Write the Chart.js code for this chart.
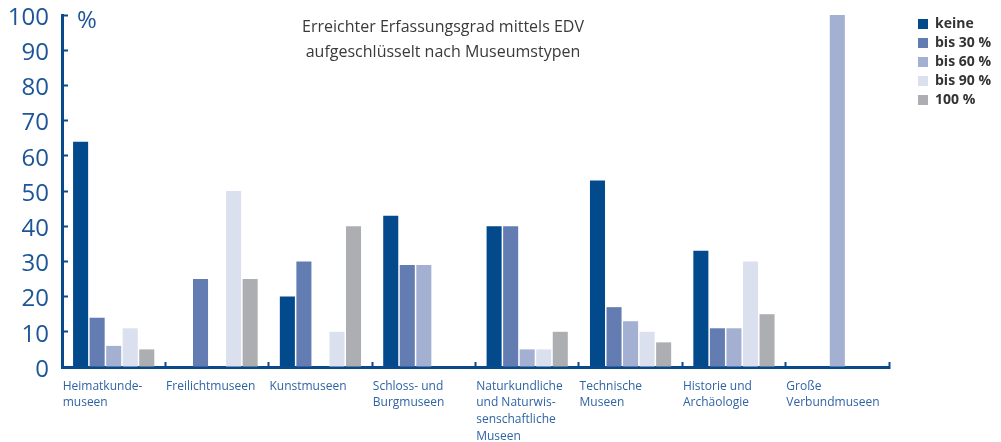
<!DOCTYPE html>
<html lang="de">
<head>
<meta charset="utf-8">
<title>Erreichter Erfassungsgrad mittels EDV</title>
<script src="https://cdn.jsdelivr.net/npm/chart.js@4.4.1/dist/chart.umd.min.js"></script>
<style>
  html, body { margin: 0; padding: 0; background: #fff; }
  #wrap { width: 1001px; height: 442px; }
</style>
</head>
<body>
<div id="wrap"><canvas id="chart" width="1001" height="442"></canvas></div>
<script>
// museum types (x categories)
const categories = [
  ['Heimatkunde-', 'museen'],
  'Freilichtmuseen',
  'Kunstmuseen',
  ['Schloss- und', 'Burgmuseen'],
  ['Naturkundliche', 'und Naturwis-', 'senschaftliche', 'Museen'],
  ['Technische', 'Museen'],
  ['Historie und', 'Archäologie'],
  ['Große', 'Verbundmuseen']
];

// share of museums in % per degree of coverage
const keine = [64, 0, 20, 43, 40, 53, 33, 0];
const bis30 = [14, 25, 30, 29, 40, 17, 11, 0];
const bis60 = [6, 0, 0, 29, 5, 13, 11, 100];
const bis90 = [11, 50, 10, 0, 5, 10, 30, 0];
const voll = [5, 25, 40, 0, 10, 7, 15, 0];

const seriesLabels = ['keine', 'bis 30 %', 'bis 60 %', 'bis 90 %', '100 %'];
const yTicks = [0, 10, 20, 30, 40, 50, 60, 70, 80, 90, 100];
const titleLines = ['Erreichter Erfassungsgrad mittels EDV', 'aufgeschlüsselt nach Museumstypen'];
const unitLabel = '%';

const seriesColors = ['#034a8c', '#637cb2', '#a4b0d2', '#dbe0ee', '#adaeb2'];
const axisBlue = '#0a4a8b';

// keeps some room between the plot and the legend on the right
const legendGap = {
  id: 'legendGap',
  beforeInit(chart) {
    Chart.layouts.addBox(chart, {
      position: 'right',
      weight: 500,
      fullSize: false,
      options: {},
      width: 0,
      height: 0,
      isHorizontal() { return false; },
      update(maxWidth, maxHeight) { this.width = 24; this.height = maxHeight; },
      draw() {}
    });
  }
};

// title text and the % unit next to the y axis
const extraText = {
  id: 'extraText',
  afterDraw(chart) {
    const ctx = chart.ctx;
    const area = chart.chartArea;
    ctx.save();
    ctx.fillStyle = '#3a3a3a';
    ctx.font = '16px "Open Sans"';
    ctx.textAlign = 'center';
    ctx.textBaseline = 'alphabetic';
    ctx.fillText(titleLines[0], 443, 31.5);
    ctx.fillText(titleLines[1], 443, 57);
    ctx.fillStyle = '#1d5596';
    ctx.font = '24px "Open Sans"';
    ctx.textAlign = 'left';
    ctx.fillText(unitLabel, area.left + 15, 28);
    ctx.restore();
  }
};

const datasets = [keine, bis30, bis60, bis90, voll].map((values, i) => ({
  label: seriesLabels[i],
  data: values,
  backgroundColor: seriesColors[i],
  borderWidth: 0,
  categoryPercentage: 0.8,
  barPercentage: 0.91
}));

new Chart(document.getElementById('chart'), {
  type: 'bar',
  data: { labels: categories, datasets: datasets },
  options: {
    responsive: false,
    animation: false,
    layout: { padding: { top: 12, right: 0, bottom: 0, left: 0 } },
    plugins: {
      title: { display: false },
      tooltip: { enabled: false },
      legend: {
        position: 'right',
        align: 'start',
        labels: {
          boxWidth: 10,
          boxHeight: 10,
          padding: 5,
          color: '#333333',
          font: { family: 'Open Sans', size: 14, weight: 'bold' }
        }
      }
    },
    scales: {
      x: {
        afterFit(scale) { scale.height = 75; },
        border: { display: true, color: axisBlue, width: 3 },
        grid: {
          offset: true,
          drawOnChartArea: false,
          drawTicks: true,
          tickLength: -5,
          tickWidth: 2,
          color: ctx => (ctx.index === 0 || ctx.index === categories.length) ? 'rgba(0,0,0,0)' : axisBlue
        },
        ticks: {
          autoSkip: false,
          maxRotation: 0,
          minRotation: 0,
          align: 'start',
          labelOffset: -51,
          padding: 16,
          color: '#2f64a3',
          font: { family: 'Open Sans', size: 12, lineHeight: 1.39 }
        }
      },
      y: {
        min: 0,
        max: 100,
        afterFit(scale) {
          scale.width = 62;
          scale.paddingTop = 15;
          scale.paddingBottom = 0;
        },
        afterBuildTicks(scale) { scale.ticks = yTicks.map(v => ({ value: v })); },
        border: { display: true, color: axisBlue, width: 3 },
        grid: {
          drawOnChartArea: false,
          drawTicks: true,
          tickLength: -6,
          tickWidth: 2,
          color: axisBlue
        },
        ticks: {
          padding: 19,
          labelOffset: 3,
          color: '#1d5596',
          font: { family: 'Open Sans', size: 24 }
        }
      }
    }
  },
  plugins: [legendGap, extraText]
});
</script>
</body>
</html>
